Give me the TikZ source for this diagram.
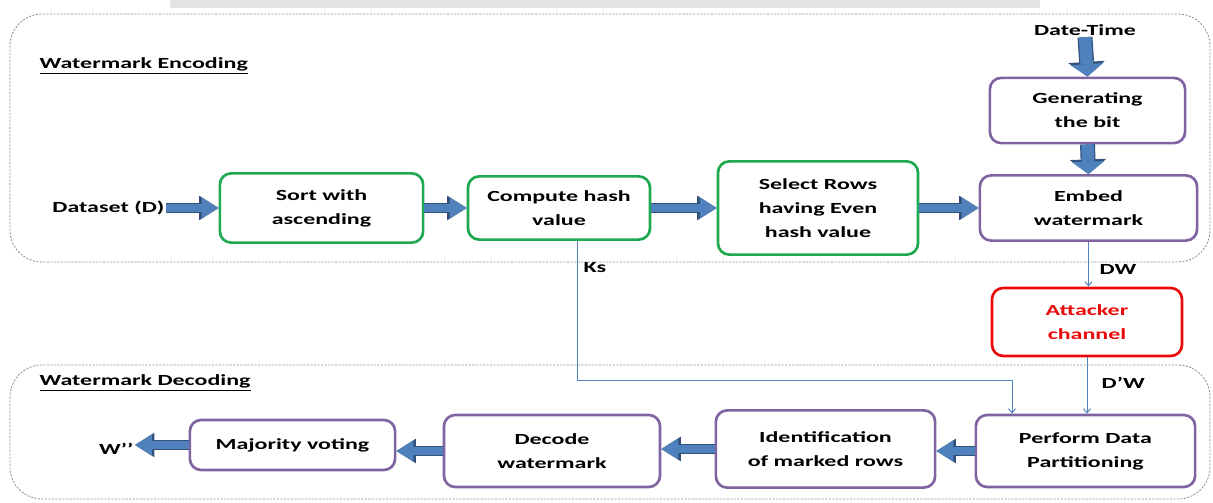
\documentclass[tikz,border=0pt]{standalone}
\usepackage{fontspec}
\setmainfont{Carlito}[FakeStretch=1.55]
\usetikzlibrary{arrows.meta, positioning, calc}
\definecolor{boxgreen}{RGB}{30,168,80}
\definecolor{boxpurple}{RGB}{128,100,162}
\definecolor{boxred}{RGB}{235,10,10}
\definecolor{arrowfill}{RGB}{79,129,189}
\definecolor{arrowedge}{RGB}{50,82,124}
\definecolor{framegray}{RGB}{140,145,155}

\tikzset{
  procbox/.style={draw, line width=1.9pt, rounded corners=8pt, align=center,
    font=\fontsize{11}{17}\selectfont\bfseries, inner sep=2pt},
  greenbox/.style={procbox, draw=boxgreen},
  purplebox/.style={procbox, draw=boxpurple},
  redbox/.style={procbox, draw=boxred, text=boxred},
  lbl/.style={font=\fontsize{11}{15}\selectfont\bfseries, inner sep=1pt},
  region/.style={draw=framegray, line width=0.6pt, dash pattern=on 1.5pt off 1pt, rounded corners=0.8cm},
  fatarrow/.style={draw=arrowfill, line width=5pt,
    -{Triangle[length=12pt,width=15pt,line width=0pt]},
    preaction={draw=arrowedge, line width=6.6pt,
      -{Triangle[length=13.8pt,width=17.5pt,line width=0pt]}}},
  fatarrowv/.style={draw=arrowfill, line width=8.8pt,
    -{Triangle[length=8.8pt,width=23pt,line width=0pt]},
    preaction={draw=arrowedge, line width=10.6pt,
      -{Triangle[length=10.4pt,width=26pt,line width=0pt]}}},
  thinline/.style={draw=arrowfill, line width=0.7pt, -{Straight Barb[length=3pt,width=5pt]}},
}

\begin{document}
\begin{tikzpicture}[x=0.025cm, y=-0.025cm]
  \useasboundingbox (0,0) rectangle (1213,503);
  \fill[gray!22] (170,0) rectangle (1040,8);

  \draw[region] (10,14) rectangle (1210,262);
  \draw[region] (10,365) rectangle (1210,499);

  \node[lbl, anchor=west] (enchead) at (38,66) {\underline{Watermark Encoding}};
  \node[lbl, anchor=west] (dechead) at (38,383) {\underline{Watermark Decoding}};

  % encoding
  \node[lbl, anchor=east] (dataset) at (166,208) {Dataset (D)};
  \node[greenbox, minimum width=5.08cm, minimum height=1.73cm] (sort) at (321.5,208) {Sort with\\ascending};
  \node[greenbox, minimum width=4.55cm, minimum height=1.58cm] (compute) at (559,208) {Compute hash\\value};
  \node[greenbox, minimum width=5.0cm, minimum height=2.33cm] (select) at (818,208) {Select Rows\\having Even\\hash value};
  \node[purplebox, minimum width=5.43cm, minimum height=1.63cm] (embed) at (1088.5,208) {Embed\\watermark};
  \node[purplebox, minimum width=4.88cm, minimum height=1.63cm] (genbit) at (1087.5,110.5) {Generating\\the bit};
  \node[lbl] (datetime) at (1085,30) {Date-Time};

  % channel
  \node[redbox, minimum width=4.75cm, minimum height=1.7cm] (attacker) at (1087,322) {Attacker\\channel};

  % decoding
  \node[purplebox, minimum width=5.48cm, minimum height=1.8cm] (perform) at (1085.5,451) {Perform Data\\Partitioning};
  \node[purplebox, minimum width=5.48cm, minimum height=1.93cm] (ident) at (825.5,449) {Identification\\of marked rows};
  \node[purplebox, minimum width=5.4cm, minimum height=1.8cm] (decode) at (552,451) {Decode\\watermark};
  \node[purplebox, minimum width=5.13cm, minimum height=1.25cm] (majority) at (292.5,445) {Majority voting};
  \node[lbl, anchor=east] (wout) at (135,449) {W’’};

  \coordinate (kbend) at (1012,380);

  \draw[fatarrow] (dataset.east) -- (dataset.east -| sort.west);
  \draw[fatarrow] (sort.east) -- (compute.west);
  \draw[fatarrow] (compute.east) -- (select.west);
  \draw[fatarrow] (select.east) -- (embed.west);
  \draw[fatarrowv] (datetime.south) -- (genbit.north);
  \draw[fatarrowv] (genbit.south) -- (embed.north);

  \draw[thinline] (embed.south) -- (embed.south |- attacker.north);
  \draw[thinline] (attacker.south) -- (attacker.south |- perform.north);
  \draw[thinline] ([xshift=0.45cm]compute.south) |- (kbend) -- (kbend |- perform.north);
  \node[lbl, anchor=west] (kslbl) at (582,268) {Ks};
  \node[lbl, anchor=west] (dwlbl) at (1098,269) {DW};
  \node[lbl, anchor=west] (dpwlbl) at (1100,383) {D’W};

  \draw[fatarrow] (perform.west) -- (perform.west -| ident.east);
  \draw[fatarrow] (ident.west) -- (ident.west -| decode.east);
  \draw[fatarrow] (decode.west) -- (decode.west -| majority.east);
  \draw[fatarrow] (majority.west) -- (majority.west -| wout.east);
\end{tikzpicture}
\end{document}
